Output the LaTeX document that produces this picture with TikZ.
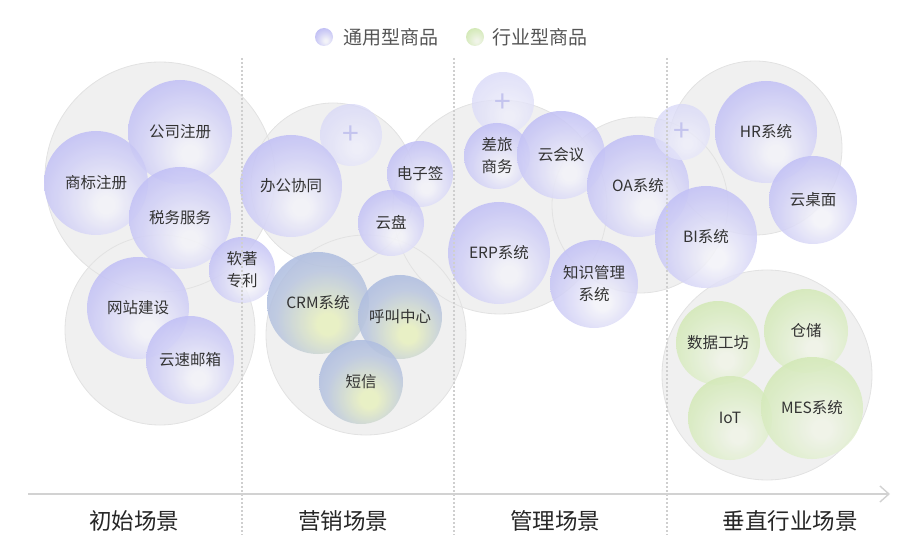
\documentclass[tikz,border=0pt]{standalone}
\usepackage{fontspec}
\setmainfont{Noto Sans CJK SC}
\usetikzlibrary{arrows.meta}
\definecolor{pin}{HTML}{F3F3F8}
\definecolor{pmid}{HTML}{D2D1F6}
\definecolor{pout}{HTML}{A5A3F2}
\definecolor{cin}{HTML}{E8F0C0}
\definecolor{cmid}{HTML}{BAC6DF}
\definecolor{cout}{HTML}{93A8E3}
\definecolor{gin}{HTML}{F0F4E8}
\definecolor{gmid}{HTML}{DDEDC8}
\definecolor{gout}{HTML}{C2E29A}
\definecolor{lin}{HTML}{EEEEFA}
\definecolor{lmid}{HTML}{E0E0F8}
\definecolor{lout}{HTML}{CDCDF6}
\definecolor{grayfill}{HTML}{F0F0F0}
\definecolor{grayline}{HTML}{E2E2E2}
\definecolor{labelc}{HTML}{333333}
\definecolor{legc}{HTML}{555555}
\definecolor{axisc}{HTML}{D2D2D2}
\definecolor{dashc}{HTML}{CFCFCF}
\definecolor{plusc}{HTML}{C4C4EE}
\pgfdeclareradialshading{purpball}{\pgfpoint{5bp}{-11bp}}{color(0bp)=(pin); color(4bp)=(pin); color(22bp)=(pmid); color(50bp)=(pout); color(80bp)=(pout)}
\pgfdeclareradialshading{crmball}{\pgfpoint{5bp}{-11bp}}{color(0bp)=(cin); color(5bp)=(cin); color(24bp)=(cmid); color(50bp)=(cout); color(80bp)=(cout)}
\pgfdeclareradialshading{greenball}{\pgfpoint{5bp}{-11bp}}{color(0bp)=(gin); color(4bp)=(gin); color(22bp)=(gmid); color(50bp)=(gout); color(80bp)=(gout)}
\pgfdeclareradialshading{lightball}{\pgfpoint{5bp}{-11bp}}{color(0bp)=(lin); color(4bp)=(lin); color(22bp)=(lmid); color(50bp)=(lout); color(80bp)=(lout)}
\tikzset{
  ballbase/.style={circle, inner sep=0pt, fill opacity=0.88, text opacity=1,
    text=labelc, align=center, font=\fontsize{15.5}{22}\selectfont},
  pball/.style={ballbase, shading=purpball, minimum size=#1pt},
  cball/.style={ballbase, shading=crmball, minimum size=#1pt},
  gball/.style={ballbase, shading=greenball, minimum size=#1pt},
  lball/.style={ballbase, shading=lightball, fill opacity=0.8, text=plusc,
    minimum size=#1pt, font=\fontsize{30}{30}\selectfont},
  grayc/.style={fill=grayfill},
  grayo/.style={draw=grayline, line width=0.8pt},
  sepline/.style={draw=dashc, line width=1.1pt, dash pattern=on 2pt off 2pt},
  scene/.style={text=black!85, font=\fontsize{22.5}{24}\selectfont},
  legtext/.style={text=legc, anchor=west, font=\fontsize{19}{20}\selectfont, inner sep=0pt},
  legball/.style={circle, inner sep=0pt, minimum size=18pt}
}
\begin{document}
\begin{tikzpicture}[x=1pt,y=-1pt]
\useasboundingbox (0,0) rectangle (916,556);
% grey scene groups
\foreach \x/\y/\r in {160/177/115, 160/330/95, 333/185/82, 366/335/100, 500/207/107, 640/205/88, 755/148/87, 767/375/105}
  \fill[grayc] (\x,\y) circle[radius=\r pt];
\foreach \x/\y/\r in {160/177/115, 160/330/95, 333/185/82, 366/335/100, 500/207/107, 640/205/88, 755/148/87, 767/375/105}
  \draw[grayo] (\x,\y) circle[radius=\r pt];
% legend
\node[legball, shading=purpball] (lg1) at (324,37) {};
\node[legtext] (lt1) at (343,37) {通用型商品};
\node[legball, shading=greenball] (lg2) at (475,37) {};
\node[legtext] (lt2) at (492,37) {行业型商品};
% initial scene
\node[pball=104] (gszc) at (180,132) {公司注册};
\node[pball=104] (sbzc) at (96,183) {商标注册};
\node[pball=102] (swfw) at (180,218) {税务服务};
\node[pball=66] (rzzl) at (242,270) {软著\\专利};
\node[pball=102] (wzjs) at (138,308) {网站建设};
\node[pball=88] (ysyx) at (190,360) {云速邮箱};
% marketing scene
\node[lball=62] (mplus) at (351,135) {+};
\node[pball=102] (bgxt) at (291,186) {办公协同};
\node[pball=66] (dzq) at (420,174) {电子签};
\node[pball=66] (yp) at (391,223) {云盘};
\node[cball=102] (crm) at (318,303) {CRM系统};
\node[cball=84] (hjzx) at (400,317) {呼叫中心};
\node[cball=84] (dx) at (361,382) {短信};
% management scene
\node[lball=62] (gplus) at (503,103) {+};
\node[pball=66] (clsw) at (497,156) {差旅\\商务};
\node[pball=88] (yhy) at (561,155) {云会议};
\node[pball=102] (oa) at (638,186) {OA系统};
\node[pball=102] (erp) at (499,253) {ERP系统};
\node[pball=88] (zsgl) at (594,284) {知识管理\\系统};
% vertical scene
\node[lball=56] (vplus) at (682,132) {+};
\node[pball=102] (hr) at (766,132) {HR系统};
\node[pball=88] (yzm) at (813,200) {云桌面};
\node[pball=102] (bi) at (706,237) {BI系统};
\node[gball=84] (sjgf) at (718,343) {数据工坊};
\node[gball=84] (cc) at (806,331) {仓储};
\node[gball=84] (iot) at (730,418) {IoT};
\node[gball=102] (mes) at (812,408) {MES系统};
% separators
\foreach \x in {242,454,667}
  \draw[sepline] (\x,58) -- (\x,535);
% axis
\coordinate (ax0) at (28,494);
\coordinate (ax1) at (890,494);
\draw[draw=axisc, line width=1.4pt, -{Straight Barb[length=9pt,width=16pt,line width=1.4pt]}] (ax0) -- (ax1);
% scene labels
\node[scene] (s1) at (134,521) {初始场景};
\node[scene] (s2) at (343,521) {营销场景};
\node[scene] (s3) at (555,521) {管理场景};
\node[scene] (s4) at (790,521) {垂直行业场景};
\end{tikzpicture}
\end{document}
